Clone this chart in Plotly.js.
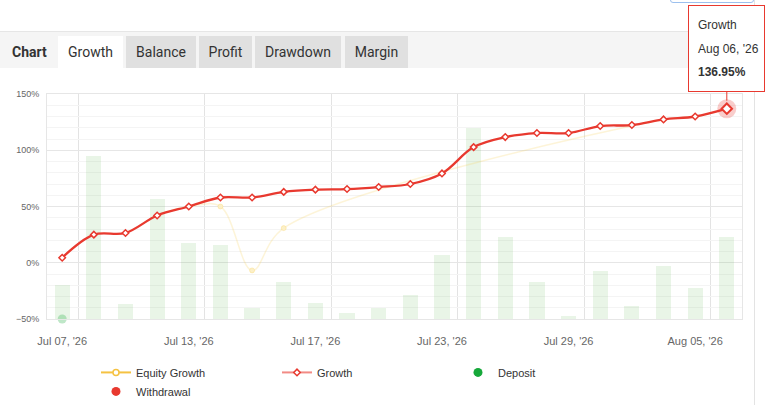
<!DOCTYPE html>
<html><head><meta charset="utf-8">
<script src="https://cdn.plot.ly/plotly-3.0.1.min.js"></script>
<style>
html,body{margin:0;padding:0;background:#fff;width:767px;height:405px;overflow:hidden;}
#frame{position:absolute;left:0;top:0;width:754px;height:405px;border-right:1px solid #e3e3e3;z-index:0}
#strip{position:absolute;left:0;top:31px;width:754px;height:36px;background:#f5f5f5;border-top:1px solid #e6e6e6;z-index:0;font-family:Roboto,sans-serif;font-size:14px;color:#333}
.tab{position:absolute;top:4px;height:32px;line-height:32px;text-align:center;background:#e0e0e0}
.tab.active{background:#fff}
#chartlbl{position:absolute;left:12px;top:4px;line-height:32px;font-weight:bold}
#btn{position:absolute;left:670px;top:-4px;width:82px;height:5px;border:1px solid #9cc0ee;border-radius:3px;background:#fff;z-index:0}
#chart{position:absolute;left:0;top:0;width:767px;height:405px;z-index:1}
</style>
</head>
<body>
<div id="frame"></div>
<div id="btn"></div>
<div id="strip">
  <div id="chartlbl">Chart</div>
  <div class="tab active" style="left:58px;width:65px">Growth</div>
  <div class="tab" style="left:126px;width:70px">Balance</div>
  <div class="tab" style="left:199px;width:53px">Profit</div>
  <div class="tab" style="left:255px;width:86px">Drawdown</div>
  <div class="tab" style="left:345px;width:63px">Margin</div>
</div>
<div id="chart"></div>
<script>
const dates = ["Jul 07, '26","Jul 08, '26","Jul 09, '26","Jul 10, '26","Jul 13, '26","Jul 14, '26",
  "Jul 15, '26","Jul 16, '26","Jul 17, '26","Jul 20, '26","Jul 21, '26","Jul 22, '26","Jul 23, '26",
  "Jul 24, '26","Jul 27, '26","Jul 28, '26","Jul 29, '26","Jul 30, '26","Jul 31, '26","Aug 04, '26",
  "Aug 05, '26","Aug 06, '26"];
const growth = [4.5, 25, 26.5, 42, 50, 58, 58, 63, 65, 65.5, 67.3, 70, 79.4, 102.8, 111.7,
  115.3, 115.3, 121.5, 122.4, 127.4, 130, 136.95];
const equity = [4.5, 25, 26.5, 42, 50, 50, -6.8, 30.8, null, null, null, null, null, null, null,
  null, null, null, null, 127.4, 130, 136.95];
const bars = [30, 145, 13, 107, 68, 66, 10, 33, 14, 5, 10, 21, 57, 170, 73, 33, 3, 43, 12, 47, 28, 73];
const depositIdx = [0];
const depositVal = [-50];
const legendNames = ["Equity Growth", "Growth", "Deposit", "Withdrawal"];

const idx = dates.map((d, i) => i);
const labelIdx = idx.filter(i => i % 4 === 0);
const last = growth.length - 1;
const RED = '#e8392f';

const traces = [
  {type:'bar', x: idx, y: bars, base: -50, width: 0.48,
   marker:{color:'rgba(110,185,95,0.15)'}, showlegend:false, hoverinfo:'skip'},
  {type:'scatter', mode:'lines+markers', x: idx, y: equity, connectgaps:true,
   line:{color:'rgba(247,210,90,0.24)', width:1.5, shape:'spline', smoothing:1},
   marker:{size:5, color:'rgba(252,240,200,1)', line:{color:'rgba(247,210,90,0.3)', width:1}},
   showlegend:false, hoverinfo:'skip'},
  {type:'scatter', mode:'lines+markers', x: idx, y: growth,
   line:{color:RED, width:2.3, shape:'spline', smoothing:1},
   marker:{symbol:'diamond', size:5, color:'#fff', line:{color:RED, width:1.5}},
   showlegend:false, hoverinfo:'skip'},
  {type:'scatter', mode:'markers', x:[idx[last]], y:[growth[last]],
   marker:{size:19, color:'rgba(232,57,47,0.25)'}, showlegend:false, hoverinfo:'skip', cliponaxis:false},
  {type:'scatter', mode:'markers', x:[idx[last]], y:[growth[last]],
   marker:{symbol:'diamond', size:8, color:'#fff', line:{color:RED, width:2}}, showlegend:false, hoverinfo:'skip', cliponaxis:false},
  {type:'scatter', mode:'markers', x: depositIdx, y: depositVal,
   marker:{size:9, color:'rgba(26,170,58,0.28)'}, showlegend:false, hoverinfo:'skip', cliponaxis:false},
  // legend entries
  {type:'scatter', mode:'lines+markers', x:[null], y:[null], name:legendNames[0],
   line:{color:'#f5c242', width:2}, marker:{size:6, color:'#fff', line:{color:'#f5c242', width:1.5}}},
  {type:'scatter', mode:'lines+markers', x:[null], y:[null], name:legendNames[1],
   line:{color:'#f28b85', width:2}, marker:{symbol:'diamond', size:5, color:'#fff', line:{color:RED, width:1.5}}},
  {type:'scatter', mode:'markers', x:[null], y:[null], name:legendNames[2],
   marker:{size:9, color:'#16a83a'}},
  {type:'scatter', mode:'markers', x:[null], y:[null], name:legendNames[3],
   marker:{size:9, color:RED}}
];

const layout = {
  width:767, height:405,
  margin:{l:47, r:25, t:94, b:86, pad:0, autoexpand:false},
  paper_bgcolor:'rgba(0,0,0,0)', plot_bgcolor:'rgba(0,0,0,0)',
  font:{family:'"Liberation Sans", Arial, sans-serif', color:'#333'},
  hovermode:false,
  bargap:0,
  xaxis:{range:[-0.48, 21.48], tickmode:'array', tickvals: labelIdx, ticktext: labelIdx.map(i => dates[i]),
    showgrid:false, zeroline:false, showline:true, mirror:true, linecolor:'#e6e6e6', linewidth:1,
    ticks:'', ticklabelstandoff:12, tickfont:{size:11, color:'#666'}, fixedrange:true, automargin:false,
    minor:{tickmode:'array', tickvals: labelIdx.map(i => i + 0.5), showgrid:true, gridcolor:'#e3e3e3', gridwidth:1, ticks:''}},
  yaxis:{range:[-50, 150], tickmode:'linear', tick0:0, dtick:50, ticksuffix:'%',
    showgrid:true, gridcolor:'#e6e6e6', zeroline:false, showline:true, mirror:true, linecolor:'#e6e6e6',
    ticks:'', ticklabelstandoff:5, tickfont:{size:9, color:'#666'}, fixedrange:true, automargin:false,
    minor:{tick0:0, dtick:10, showgrid:true, gridcolor:'#f4f4f4', ticks:''}},
  showlegend:true,
  legend:{orientation:'h', x:0.0705, xanchor:'left', y:-0.173, yanchor:'top',
    font:{size:11, color:'#333'}, entrywidth:136, entrywidthmode:'pixels', traceorder:'normal',
    bgcolor:'rgba(0,0,0,0)', itemclick:false, itemdoubleclick:false},
  annotations:[
    {x: idx[last], y: growth[last], xref:'x', yref:'y', text:' ', showarrow:true, ax:0, ay:-59.7,
     arrowhead:0, arrowcolor:RED, arrowwidth:1, standoff:8, width:75, height:85,
     bordercolor:RED, borderwidth:1, borderpad:0, bgcolor:'#fff'},
    {x: idx[last], y: growth[last], xref:'x', yref:'y', text: legendNames[1], showarrow:false,
     xanchor:'left', yanchor:'middle', xshift:-31, yshift:83.7, font:{size:12, color:'#333'}},
    {x: idx[last], y: growth[last], xref:'x', yref:'y', text: dates[last], showarrow:false,
     xanchor:'left', yanchor:'middle', xshift:-31, yshift:59.7, font:{size:12, color:'#333'}},
    {x: idx[last], y: growth[last], xref:'x', yref:'y', text: '<b>' + growth[last].toFixed(2) + '%</b>', showarrow:false,
     xanchor:'left', yanchor:'middle', xshift:-31, yshift:36.7, font:{size:12, color:'#333'}}
  ]
};

Plotly.newPlot('chart', traces, layout, {displayModeBar:false, staticPlot:true});
</script>
</body></html>
